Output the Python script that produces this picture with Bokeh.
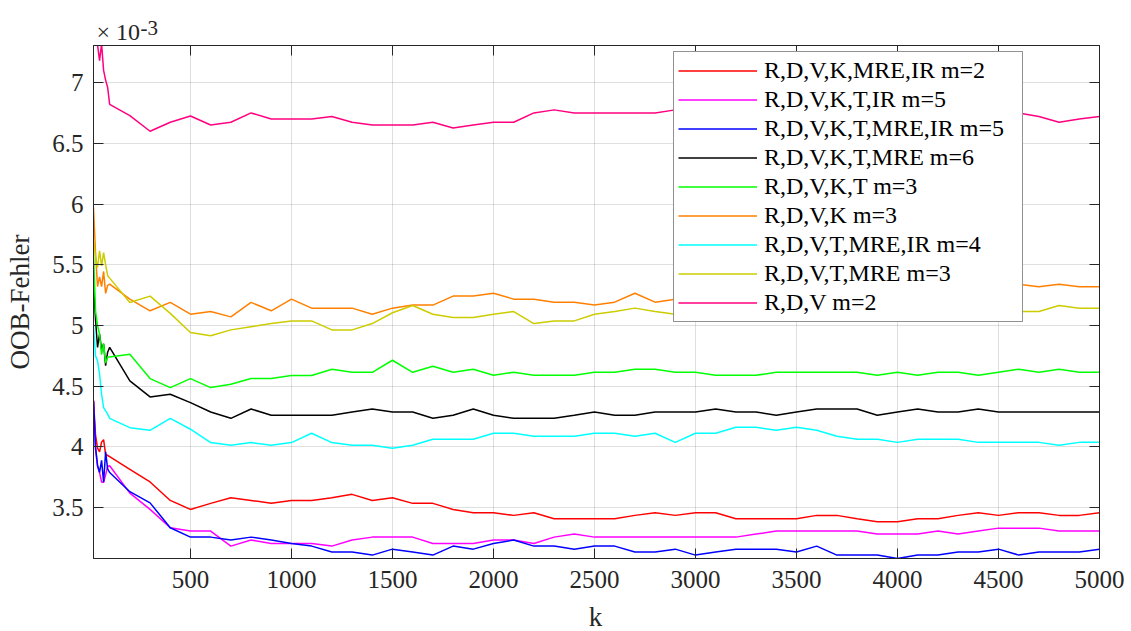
from bokeh.plotting import figure
from bokeh.layouts import column
from bokeh.models import (Range1d, LinearAxis, FixedTicker, CustomJSTickFormatter,
                          Legend, LegendItem, Label, ColumnDataSource)
from bokeh.embed import file_html
from bokeh.resources import INLINE

# number of trees k
k = list(range(20, 101, 10)) + list(range(200, 5001, 100))

# OOB error per feature set, in units of 1e-3
err_rdvk_mre_ir_m2 = [4.38, 4.10, 3.99, 3.96, 4.04, 4.06, 3.94, 3.93, 3.92,
    3.816, 3.712, 3.56, 3.486, 3.536, 3.582, 3.56, 3.536, 3.56, 3.56, 3.582, 3.61, 3.56,
    3.582, 3.536, 3.536, 3.486, 3.459, 3.459, 3.437, 3.459, 3.409, 3.409, 3.409, 3.409, 3.437, 3.459, 3.437,
    3.459, 3.459, 3.409, 3.409, 3.409, 3.409, 3.437, 3.437, 3.409, 3.385, 3.385, 3.409, 3.409, 3.437, 3.459, 3.437,
    3.459, 3.459, 3.437, 3.437, 3.459]
err_rdvkt_ir_m5 = [4.38, 3.98, 3.84, 3.79, 3.71, 3.71, 3.77, 3.84, 3.845,
    3.62, 3.486, 3.335, 3.308, 3.308, 3.184, 3.234, 3.206, 3.206, 3.206, 3.184, 3.234, 3.258,
    3.258, 3.258, 3.206, 3.206, 3.206, 3.234, 3.234, 3.206, 3.258, 3.283, 3.258, 3.258, 3.258, 3.258, 3.258,
    3.258, 3.258, 3.258, 3.283, 3.308, 3.308, 3.308, 3.308, 3.308, 3.283, 3.283, 3.283, 3.308, 3.283, 3.308, 3.332,
    3.332, 3.332, 3.308, 3.308, 3.308]
err_rdvkt_mre_ir_m5 = [4.38, 4.00, 3.85, 3.79, 3.89, 3.71, 3.96, 3.82, 3.79,
    3.632, 3.54, 3.335, 3.258, 3.258, 3.234, 3.258, 3.234, 3.206, 3.184, 3.135, 3.135, 3.11,
    3.159, 3.135, 3.11, 3.184, 3.159, 3.206, 3.234, 3.184, 3.184, 3.159, 3.184, 3.184, 3.135, 3.135, 3.159,
    3.11, 3.135, 3.159, 3.159, 3.159, 3.135, 3.184, 3.11, 3.11, 3.11, 3.082, 3.11, 3.11, 3.135, 3.135, 3.159,
    3.11, 3.135, 3.135, 3.135, 3.159]
err_rdvkt_mre_m6 = [5.35, 5.05, 4.82, 4.93, 4.80, 4.85, 4.67, 4.78, 4.82,
    4.544, 4.412, 4.434, 4.365, 4.288, 4.236, 4.313, 4.261, 4.261, 4.261, 4.261, 4.288, 4.313,
    4.288, 4.288, 4.236, 4.261, 4.313, 4.261, 4.236, 4.236, 4.236, 4.261, 4.288, 4.261, 4.261, 4.288, 4.288,
    4.288, 4.313, 4.288, 4.288, 4.261, 4.288, 4.313, 4.313, 4.313, 4.261, 4.288, 4.313, 4.288, 4.288, 4.313, 4.288,
    4.288, 4.288, 4.288, 4.288, 4.288]
err_rdvkt_m3 = [5.59, 5.12, 5.00, 4.93, 4.76, 4.85, 4.69, 4.74, 4.74,
    4.764, 4.563, 4.489, 4.563, 4.489, 4.516, 4.563, 4.563, 4.588, 4.588, 4.64, 4.615, 4.615,
    4.714, 4.615, 4.665, 4.615, 4.64, 4.59, 4.615, 4.59, 4.59, 4.59, 4.615, 4.615, 4.64, 4.64, 4.615,
    4.615, 4.59, 4.59, 4.59, 4.615, 4.615, 4.615, 4.615, 4.615, 4.59, 4.615, 4.59, 4.615, 4.615, 4.59, 4.615,
    4.64, 4.615, 4.64, 4.615, 4.615]
err_rdvk_m3 = [5.97, 5.60, 5.32, 5.40, 5.32, 5.445, 5.264, 5.33, 5.34,
    5.217, 5.121, 5.19, 5.093, 5.115, 5.071, 5.19, 5.121, 5.217, 5.143, 5.143, 5.143, 5.093,
    5.143, 5.168, 5.168, 5.242, 5.242, 5.266, 5.217, 5.217, 5.192, 5.192, 5.168, 5.192, 5.266, 5.192, 5.217,
    5.217, 5.242, 5.217, 5.242, 5.266, 5.242, 5.266, 5.29, 5.266, 5.29, 5.315, 5.29, 5.315, 5.34, 5.315, 5.34,
    5.34, 5.32, 5.34, 5.32, 5.32]
err_rdvt_mre_ir_m4 = [5.00, 4.75, 4.71, 4.60, 4.434, 4.324, 4.297, 4.27, 4.236,
    4.159, 4.137, 4.236, 4.146, 4.036, 4.014, 4.036, 4.014, 4.036, 4.113, 4.036, 4.014, 4.014,
    3.989, 4.014, 4.063, 4.063, 4.063, 4.113, 4.113, 4.088, 4.088, 4.088, 4.113, 4.113, 4.088, 4.113, 4.038,
    4.113, 4.113, 4.162, 4.162, 4.137, 4.162, 4.137, 4.088, 4.063, 4.063, 4.038, 4.063, 4.063, 4.063, 4.038, 4.038,
    4.038, 4.038, 4.014, 4.038, 4.038]
err_rdvt_mre_m3 = [5.725, 5.56, 5.478, 5.615, 5.49, 5.60, 5.50, 5.41, 5.39,
    5.19, 5.242, 5.10, 4.942, 4.915, 4.964, 4.99, 5.016, 5.038, 5.038, 4.964, 4.964, 5.016,
    5.105, 5.165, 5.093, 5.066, 5.066, 5.093, 5.115, 5.016, 5.038, 5.038, 5.093, 5.115, 5.143, 5.115, 5.093,
    5.07, 5.093, 5.066, 5.093, 5.115, 5.093, 5.115, 5.093, 5.115, 5.093, 5.115, 5.143, 5.115, 5.093, 5.115, 5.115,
    5.115, 5.115, 5.165, 5.143, 5.143]
err_rdv_m2 = [7.45, 7.38, 7.31, 7.18, 7.32, 7.10, 7.02, 6.96, 6.82,
    6.728, 6.599, 6.673, 6.725, 6.651, 6.673, 6.75, 6.70, 6.70, 6.70, 6.72, 6.673, 6.651,
    6.651, 6.651, 6.673, 6.626, 6.651, 6.673, 6.673, 6.75, 6.775, 6.75, 6.75, 6.75, 6.75, 6.75, 6.775,
    6.775, 6.80, 6.775, 6.75, 6.775, 6.75, 6.775, 6.75, 6.75, 6.775, 6.75, 6.75, 6.725, 6.75, 6.75, 6.75,
    6.75, 6.72, 6.673, 6.70, 6.72]

labels = ["R,D,V,K,MRE,IR m=2", "R,D,V,K,T,IR m=5", "R,D,V,K,T,MRE,IR m=5",
          "R,D,V,K,T,MRE m=6", "R,D,V,K,T m=3", "R,D,V,K m=3",
          "R,D,V,T,MRE,IR m=4", "R,D,V,T,MRE m=3", "R,D,V m=2"]
colors = ["#FF0000", "#FF00FF", "#0000FF", "#000000", "#00FF00",
          "#FF8000", "#00FFFF", "#CCCC00", "#FF0080"]
values = [err_rdvk_mre_ir_m2, err_rdvkt_ir_m5, err_rdvkt_mre_ir_m5, err_rdvkt_mre_m6,
          err_rdvkt_m3, err_rdvk_m3, err_rdvt_mre_ir_m4, err_rdvt_mre_m3, err_rdv_m2]

x_ticks = list(range(500, 5001, 500))
y_ticks = [3.5e-3, 4.0e-3, 4.5e-3, 5.0e-3, 5.5e-3, 6.0e-3, 6.5e-3, 7.0e-3]

FONT = "Liberation Serif"
AX = "#262626"
W = 1131
HEAD_H, FOOT_H = 44, 33


def text_strip(height):
    """A blank figure strip holding free-standing text above/below the axes.
    Its frame lines up horizontally with the main plot frame inside the column."""
    f = figure(width=W, height=height, output_backend="svg", toolbar_location=None,
               x_range=Range1d(0, 1), y_range=Range1d(0, 1),
               x_axis_location=None, y_axis_location=None, min_border=0)
    f.outline_line_color = None
    f.grid.visible = False
    f.background_fill_color = "white"
    f.border_fill_color = "white"
    return f


# exponent of the y axis, drawn above the axes box (x measured from the frame's left edge)
head = text_strip(HEAD_H)
head.add_layout(Label(x=3, y=0, x_units="screen", y_units="screen", text="× 10",
                      text_font=FONT, text_font_size="24px", text_color=AX,
                      text_baseline="bottom"))
head.add_layout(Label(x=47, y=10, x_units="screen", y_units="screen", text="-3",
                      text_font=FONT, text_font_size="21px", text_color=AX,
                      text_baseline="bottom"))

# x axis title
foot = text_strip(FOOT_H)
foot.add_layout(Label(x=502, y=0, x_units="screen", y_units="screen", text="k",
                      text_font=FONT, text_font_size="27px", text_color=AX,
                      text_align="center", text_baseline="bottom"))

p = figure(width=W, height=631 - HEAD_H - FOOT_H, output_backend="svg", toolbar_location=None,
           x_range=Range1d(20, 5000), y_range=Range1d(3.082e-3, 7.305e-3),
           min_border_left=93, min_border_right=32, min_border_top=1, min_border_bottom=40)
p.xaxis.visible = False
p.yaxis.visible = False
p.outline_line_color = AX
p.outline_line_width = 1
p.background_fill_color = "white"
p.border_fill_color = "white"

fmt_y = CustomJSTickFormatter(code="return String(Math.round(tick * 1e4) / 10);")
blank = CustomJSTickFormatter(code="return '';")


def style_axis(ax, font_size="25px"):
    ax.axis_line_color = AX
    ax.major_tick_line_color = AX
    ax.major_tick_in = 10
    ax.major_tick_out = 0
    ax.minor_tick_line_color = None
    ax.major_label_text_font = FONT
    ax.major_label_text_font_size = font_size
    ax.major_label_text_color = AX
    ax.axis_label_text_font = FONT
    ax.axis_label_text_font_size = "27px"
    ax.axis_label_text_font_style = "normal"
    ax.axis_label_text_color = AX


xb = LinearAxis(ticker=FixedTicker(ticks=x_ticks))
style_axis(xb)
xb.major_label_standoff = 12
p.add_layout(xb, "below")

yl = LinearAxis(ticker=FixedTicker(ticks=y_ticks), formatter=fmt_y, axis_label="OOB-Fehler")
style_axis(yl)
yl.major_label_standoff = 10
yl.axis_label_standoff = 14
p.add_layout(yl, "left")

xt = LinearAxis(ticker=FixedTicker(ticks=x_ticks), formatter=blank)
style_axis(xt, "0px")
xt.major_label_standoff = 0
p.add_layout(xt, "above")

yr = LinearAxis(ticker=FixedTicker(ticks=y_ticks), formatter=blank)
style_axis(yr, "0px")
yr.major_label_standoff = 0
p.add_layout(yr, "right")

p.xgrid.ticker = FixedTicker(ticks=x_ticks)
p.ygrid.ticker = FixedTicker(ticks=y_ticks)
for g in (p.xgrid, p.ygrid):
    g.grid_line_color = AX
    g.grid_line_alpha = 0.15
    g.grid_line_width = 1

items = []
for lab, col, vals in zip(labels, colors, values):
    src = ColumnDataSource(dict(k=k, err=[v * 1e-3 for v in vals]))
    r = p.line("k", "err", source=src, line_color=col, line_width=1.5)
    items.append(LegendItem(label=lab, renderers=[r]))

legend = Legend(items=items, location=(580, 236),
                label_text_font=FONT, label_text_font_size="24px", label_text_color="#000000",
                glyph_width=79, glyph_height=29, label_height=29, label_width=254,
                label_standoff=7, spacing=0, padding=4, margin=0,
                border_line_color=AX, border_line_width=1,
                background_fill_color="white", background_fill_alpha=1.0)
p.add_layout(legend, "center")

page = column(head, p, foot, spacing=0)
open("out.html", "w").write(file_html(page, INLINE))
